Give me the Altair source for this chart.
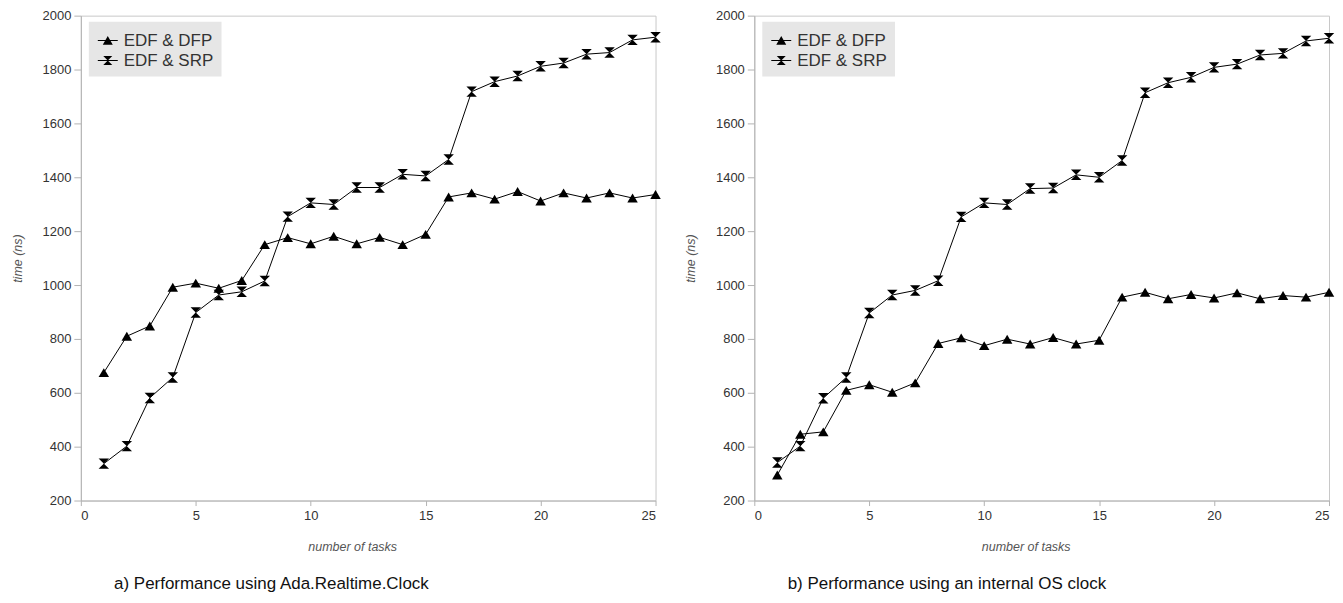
import altair as alt
import pandas as pd

tasks = list(range(1, 26))
series_names = ["EDF & DFP", "EDF & SRP"]

a_dfp = [675, 810, 848, 992, 1007, 988, 1017, 1150, 1176, 1153, 1181, 1153, 1177,
         1150, 1188, 1327, 1342, 1319, 1347, 1312, 1342, 1323, 1342, 1323, 1336]
a_srp = [337, 402, 581, 657, 898, 963, 975, 1015, 1254, 1305, 1299, 1362, 1362,
         1411, 1405, 1466, 1718, 1755, 1776, 1812, 1824, 1857, 1863, 1910, 1920]
b_dfp = [295, 446, 455, 609, 630, 602, 637, 783, 804, 775, 799, 781, 805,
         781, 795, 955, 973, 949, 965, 952, 971, 949, 961, 955, 973]
b_srp = [341, 402, 580, 657, 896, 963, 980, 1016, 1253, 1305, 1299, 1358, 1360,
         1409, 1400, 1462, 1714, 1751, 1771, 1808, 1820, 1854, 1860, 1906, 1916]

x_ticks = [0, 5, 10, 15, 20, 25]
y_ticks = [200, 400, 600, 800, 1000, 1200, 1400, 1600, 1800, 2000]

captions = ["a) Performance using Ada.Realtime.Clock",
            "b) Performance using an internal OS clock"]

# marker shapes (data points)
TRI = "M-1,0.85L0,-0.85L1,0.85Z"
HOUR = "M-1,-1L1,-1L-1,1L1,1Z"
# legend symbols: thin bar (line sample) + marker, all sub-paths clockwise
TRI_LEG = "M-1,-0.05L1,-0.05L1,0.05L-1,0.05Z M-0.5,0.42L0,-0.45L0.5,0.42Z"
HOUR_LEG = ("M-1,-0.05L1,-0.05L1,0.05L-1,0.05Z "
            "M-0.45,-0.45L0.45,-0.45L0,0Z M0,0L0.45,0.45L-0.45,0.45Z")

FONT = "Liberation Sans"
W, H = 576, 486


def make_df(dfp, srp):
    rows = []
    for t, v in zip(tasks, dfp):
        rows.append({"task": t, "time": v, "series": series_names[0]})
    for t, v in zip(tasks, srp):
        rows.append({"task": t, "time": v, "series": series_names[1]})
    return pd.DataFrame(rows)


def panel(df, caption, cap_dx):
    xenc = alt.X("task:Q", scale=alt.Scale(domain=[0, 25], nice=False),
                 axis=alt.Axis(values=x_ticks, title="number of tasks", titlePadding=18,
                               titleX=W / 2 - 16,
                               tickSize=5, labelPadding=4, format="d"))
    yenc = alt.Y("time:Q", scale=alt.Scale(domain=[200, 2000], nice=False),
                 axis=alt.Axis(values=y_ticks, title="time (ns)", titlePadding=18,
                               tickSize=7, labelPadding=3, format="d"))
    base = alt.Chart(df).encode(x=xenc, y=yenc, detail="series:N")
    lines = base.mark_line(color="black", strokeWidth=1)
    pts = base.mark_point(filled=True, color="black", opacity=1, size=110).encode(
        shape=alt.Shape("series:N",
                        scale=alt.Scale(domain=series_names, range=[TRI, HOUR]),
                        legend=None))
    leg = alt.Chart(df).transform_filter("false").mark_point(
        filled=True, color="black", opacity=1, size=400).encode(
        x=alt.X("task:Q"), y=alt.Y("time:Q"),
        shape=alt.Shape("series:N",
                        scale=alt.Scale(domain=series_names, range=[TRI_LEG, HOUR_LEG]),
                        legend=alt.Legend(
                            title=None, orient="none", legendX=8, legendY=6,
                            fillColor="#e6e6e6", padding=8, symbolSize=400,
                            labelFontSize=17, labelFont=FONT, labelColor="#333333",
                            labelOffset=5, rowPadding=1,
                            symbolFillColor="black", symbolOpacity=1)))
    return alt.layer(lines, pts, leg).resolve_scale(shape="independent").properties(
        width=W, height=H,
        title=alt.TitleParams(caption, orient="bottom", anchor="middle", frame="group",
                              dx=cap_dx, fontSize=17, font=FONT, fontWeight="normal",
                              color="#111111", offset=23))


left = panel(make_df(a_dfp, a_srp), captions[0], -97)
right = panel(make_df(b_dfp, b_srp), captions[1], -95)

chart = alt.hconcat(left, right, spacing=22).properties(
    padding={"left": 2, "top": 0, "right": 0, "bottom": 0}
).configure_axis(
    grid=False, domainColor="#b3b3b3", tickColor="#b3b3b3",
    labelFont=FONT, labelFontSize=13, labelColor="#333333",
    titleFont=FONT, titleFontSize=12.5, titleFontStyle="italic",
    titleFontWeight="normal", titleColor="#555555"
).configure_view(stroke="#c8c8c8", strokeWidth=1)

chart.save("out.html", embed_options={"renderer": "svg", "actions": False})
